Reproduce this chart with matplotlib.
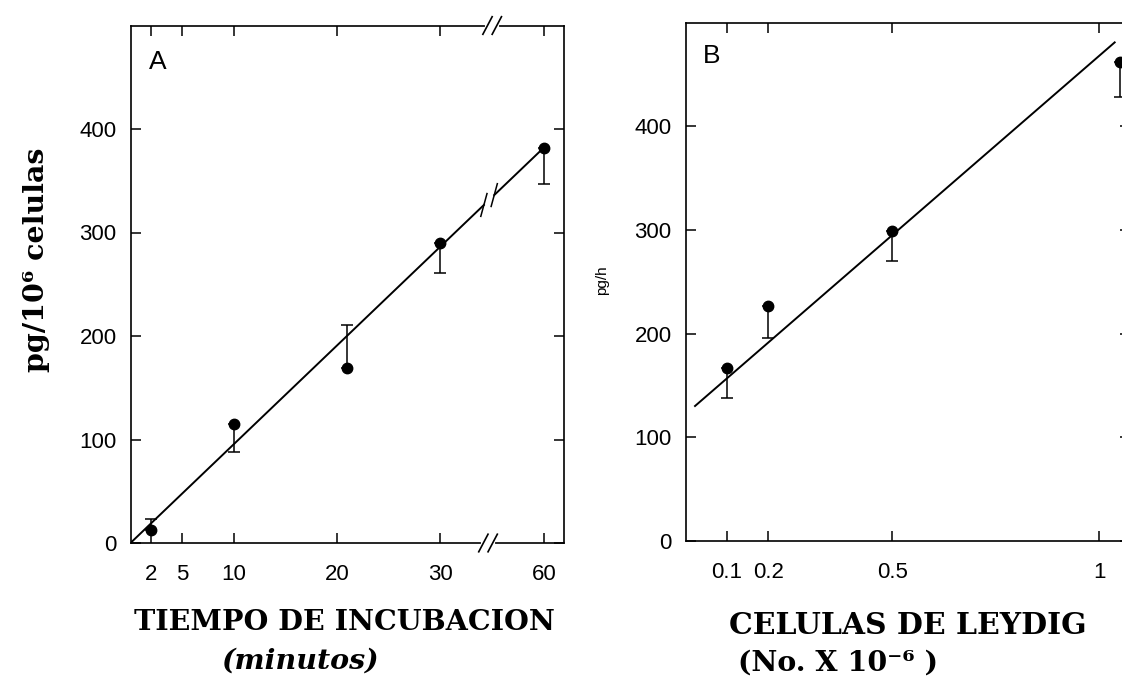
import matplotlib
matplotlib.use('Agg')
import matplotlib.pyplot as plt
import matplotlib.transforms as mtransforms

# Panel A: tiempo de incubacion (min) vs pg/10^6 celulas
tiempo = [2, 10, 21, 30, 60]
pg_a = [13, 115, 169, 290, 382]
err_a_up = [10, 0, 42, 0, 0]
err_a_down = [0, 27, 0, 29, 35]
ticks_a = [2, 5, 10, 20, 30, 60]
recta_a_x = [0, 60]
recta_a_y = [0, 382]

# Panel B: celulas de Leydig (No. x 10^-6) vs pg/h
celulas = [0.1, 0.2, 0.5, 1.05]
pg_b = [167, 227, 299, 462]
err_b_down = [29, 31, 29, 34]
ticks_b = [0.1, 0.2, 0.5, 1]
ticks_b_lbl = ['0.1', '0.2', '0.5', '1']
recta_b_x = [0.023, 1.037]
recta_b_y = [130, 481]

yticks = [0, 100, 200, 300, 400]

# eje x cortado entre 30 y 60: 60 se dibuja en la posicion 40
CORTE = 35


def pos_a(t):
    return t if t < CORTE else t - 20


W, H = 1122, 683
fig = plt.figure(figsize=(W / 100, H / 100), dpi=100)
plt.rcParams['font.family'] = ['Liberation Sans', 'DejaVu Sans']

ax_a = fig.add_axes([130.5 / W, 1 - 543 / H, 434 / W, 517.5 / H])
ax_b = fig.add_axes([685.5 / W, 1 - 540.7 / H, 444.5 / W, 518 / H])


def estilo(ax):
    for s in ax.spines.values():
        s.set_linewidth(1.2)
    ax.tick_params(direction='in', length=7, width=1.1, labelsize=16,
                   top=True, right=True, colors='black')
    ax.tick_params(axis='x', pad=15)
    ax.tick_params(axis='y', pad=10)
    ax.set_yticks(yticks)
    ax.set_ylim(0, 500)


def barra(ax, x, y, lo, hi):
    ax.errorbar(x, y, yerr=[lo, hi], fmt='o', color='black', ms=7.5,
                elinewidth=1.1, capsize=4, capthick=1.1, zorder=3)


def slash(ax, x, y, tr, dx, dy, lw=1.2):
    ax.plot([x - dx, x + dx], [y - dy, y + dy], color='black', lw=lw,
            transform=tr, clip_on=False, zorder=5)


# ---- Panel A ----
estilo(ax_a)
ax_a.set_xlim(0, 42)
ax_a.set_xticks([pos_a(t) for t in ticks_a])
ax_a.set_xticklabels([str(t) for t in ticks_a])

xa = [pos_a(t) for t in tiempo]
barra(ax_a, xa, pg_a, err_a_down, err_a_up)

# recta de regresion con su corte
rx = [pos_a(t) for t in recta_a_x]
m = (recta_a_y[1] - recta_a_y[0]) / (rx[1] - rx[0])
g1, g2 = 34.2, 35.2
ax_a.plot([rx[0], g1], [recta_a_y[0], recta_a_y[0] + m * (g1 - rx[0])],
          color='black', lw=1.4, zorder=2)
ax_a.plot([g2, rx[1]], [recta_a_y[0] + m * (g2 - rx[0]), recta_a_y[1]],
          color='black', lw=1.4, zorder=2)
for g in (g1, g2):
    slash(ax_a, g, m * g, ax_a.transData, 0.3, 11, lw=1.1)

# marcas de corte en el eje x (abajo y arriba)
blend = mtransforms.blended_transform_factory(ax_a.transData, ax_a.transAxes)
for yy, xc in ((0, 34.6), (1, 35.0)):
    ax_a.plot([xc - 0.5, xc + 0.5], [yy, yy], color='white', lw=3,
              transform=blend, clip_on=False, zorder=4)
    for off in (-0.45, 0.45):
        slash(ax_a, xc + off, yy, blend, 0.45, 0.017)

ax_a.text(0.043, 0.93, 'A', transform=ax_a.transAxes, fontsize=19,
          ha='left', va='center')

# ---- Panel B ----
estilo(ax_b)
ax_b.set_xlim(0, 1.074)
ax_b.set_xticks(ticks_b)
ax_b.set_xticklabels(ticks_b_lbl)
barra(ax_b, celulas, pg_b, err_b_down, [0] * len(celulas))
ax_b.plot(recta_b_x, recta_b_y, color='black', lw=1.4, zorder=2)
ax_b.text(0.038, 0.935, 'B', transform=ax_b.transAxes, fontsize=19,
          ha='left', va='center')
ax_b.text(602 / W, 1 - 280 / H, 'pg/h', transform=fig.transFigure,
          rotation=90, fontsize=11, ha='center', va='center')

# ---- textos de los ejes ----
serif = ['DejaVu Serif']
fig.text(36 / W, 1 - 260 / H, 'pg/10\u2076 celulas', rotation=90,
         family=serif, weight='bold', fontsize=20.5, ha='center', va='center')
fig.text(344 / W, 1 - 622 / H, 'TIEMPO DE INCUBACION', family=serif,
         weight='bold', fontsize=20.5, ha='center', va='center')
fig.text(300 / W, 1 - 661 / H, '(minutos)', family=serif, weight='bold',
         style='italic', fontsize=20.5, ha='center', va='center')
fig.text(908 / W, 1 - 625 / H, 'CELULAS DE LEYDIG', family=serif,
         weight='bold', fontsize=21.5, ha='center', va='center')
fig.text(838 / W, 1 - 663 / H, '(No. X 10\u207b\u2076 )', family=serif,
         weight='bold', fontsize=20.5, ha='center', va='center')

fig.savefig('out.png', dpi=100, facecolor='white')
